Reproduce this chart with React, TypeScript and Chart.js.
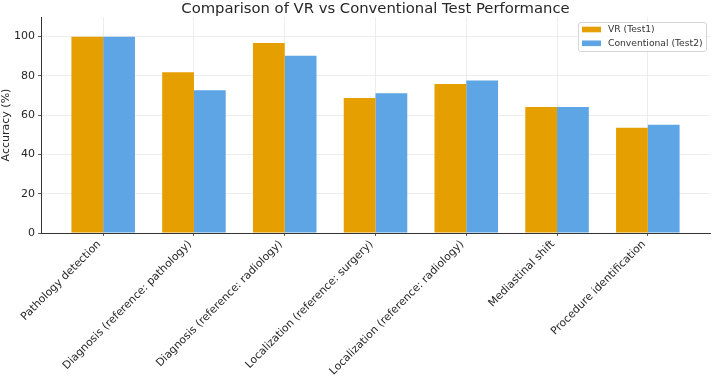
import React, { useEffect, useRef } from "react";
import { Chart, registerables } from "chart.js";

Chart.register(...registerables);

const categories = [
  "Pathology detection",
  "Diagnosis (reference: pathology)",
  "Diagnosis (reference: radiology)",
  "Localization (reference: surgery)",
  "Localization (reference: radiology)",
  "Mediastinal shift",
  "Procedure identification",
];
const vrValues = [100, 81.8, 96.8, 68.8, 75.9, 64.2, 53.6];
const conventionalValues = [100, 72.7, 90.3, 71.2, 77.6, 64.2, 55.1];
const seriesNames = ["VR (Test1)", "Conventional (Test2)"];
const seriesColors = ["#E69F00", "#5DA5E4"];
const yTicks = [0, 20, 40, 60, 80, 100];
const chartTitle = "Comparison of VR vs Conventional Test Performance";
const yTitle = "Accuracy (%)";

const FONT = "'DejaVu Sans', sans-serif";
const TEXT = "#262626";

const overlayPlugin = {
  id: "overlay",
  afterDraw(chart: any) {
    const ctx = chart.ctx;
    const area = chart.chartArea;
    ctx.save();
    // title
    ctx.fillStyle = TEXT;
    ctx.font = `14.8px ${FONT}`;
    ctx.textAlign = "center";
    ctx.textBaseline = "alphabetic";
    ctx.fillText(chartTitle, (area.left + area.right) / 2, 12.5);
    // legend
    const bx = 578.5, by = 22.5, bw = 128, bh = 29;
    ctx.beginPath();
    const r = 2.5;
    ctx.moveTo(bx + r, by);
    ctx.lineTo(bx + bw - r, by);
    ctx.quadraticCurveTo(bx + bw, by, bx + bw, by + r);
    ctx.lineTo(bx + bw, by + bh - r);
    ctx.quadraticCurveTo(bx + bw, by + bh, bx + bw - r, by + bh);
    ctx.lineTo(bx + r, by + bh);
    ctx.quadraticCurveTo(bx, by + bh, bx, by + bh - r);
    ctx.lineTo(bx, by + r);
    ctx.quadraticCurveTo(bx, by, bx + r, by);
    ctx.closePath();
    ctx.fillStyle = "rgba(255,255,255,0.8)";
    ctx.fill();
    ctx.strokeStyle = "#d6d6d6";
    ctx.lineWidth = 1;
    ctx.stroke();
    ctx.font = `9.2px ${FONT}`;
    ctx.textAlign = "left";
    ctx.textBaseline = "middle";
    seriesNames.forEach((name, i) => {
      const cy = 29.5 + i * 13.8;
      ctx.fillStyle = seriesColors[i];
      ctx.fillRect(582, cy - 2.8, 19, 5.6);
      ctx.fillStyle = "#333";
      ctx.fillText(name, 608, cy + 0.5);
    });
    ctx.restore();
  },
};

export default function App() {
  const ref = useRef<HTMLCanvasElement | null>(null);
  useEffect(() => {
    if (!ref.current) return;
    const series = [vrValues, conventionalValues];
    const chart = new Chart(ref.current, {
      type: "bar",
      data: {
        datasets: series.map((vals, si) => ({
          label: seriesNames[si],
          data: vals.map((v, i) => ({ x: i, y: v })),
          backgroundColor: seriesColors[si],
          borderWidth: 0,
          categoryPercentage: 0.7,
          barPercentage: 1.0,
        })),
      },
      options: {
        responsive: false,
        animation: false,
        layout: { padding: { top: 17, right: 2, left: 0, bottom: 0 } },
        plugins: {
          legend: { display: false },
          title: { display: false },
          tooltip: { enabled: false },
        },
        scales: {
          x: {
            type: "linear",
            offset: false,
            min: -0.685,
            max: 6.685,
            afterBuildTicks: (scale: any) => {
              scale.ticks = categories.map((_, i) => ({ value: i }));
            },
            afterFit: (scale: any) => {
              scale.height = 144;
            },
            ticks: {
              autoSkip: false,
              minRotation: 45,
              maxRotation: 45,
              padding: 2,
              labelOffset: -4,
              color: TEXT,
              font: { family: FONT, size: 10.8 },
              callback: (v: any) => categories[v as number] ?? "",
            },
            grid: {
              offset: false,
              color: "#e8e8e8",
              lineWidth: 0.8,
              tickColor: "#333",
              tickLength: 3,
            },
            border: { color: "#333", width: 1 },
          },
          y: {
            min: 0,
            max: 110,
            afterBuildTicks: (scale: any) => {
              scale.ticks = yTicks.map((v) => ({ value: v }));
            },
            afterFit: (scale: any) => {
              scale.width = 41;
            },
            ticks: {
              padding: 3,
              color: TEXT,
              font: { family: FONT, size: 11 },
            },
            grid: {
              color: "#e8e8e8",
              lineWidth: 0.8,
              tickColor: "#333",
              tickLength: 3,
            },
            border: { color: "#333", width: 1 },
            title: {
              display: true,
              text: yTitle,
              color: TEXT,
              font: { family: FONT, size: 11 },
              padding: { top: 0, bottom: 0 },
            },
          },
        },
      },
      plugins: [overlayPlugin],
    } as any);
    return () => chart.destroy();
  }, []);
  return (
    <div style={{ position: "fixed", left: 0, top: 0, width: 712, height: 377, background: "#fff" }}>
      <canvas ref={ref} width={712} height={377} />
    </div>
  );
}
